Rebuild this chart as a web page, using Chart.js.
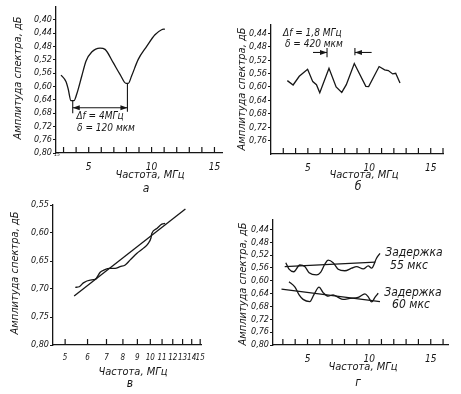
<!DOCTYPE html>
<html>
<head>
<meta charset="utf-8">
<script src="https://cdn.jsdelivr.net/npm/chart.js@4.4.1/dist/chart.umd.min.js"></script>
<style>
  body { margin: 0; background: #fff; }
  #wrap { position: relative; width: 461px; height: 394px; }
  #wrap canvas { position: absolute; left: 0; top: 0; }
</style>
</head>
<body>
<div id="wrap">
  <canvas id="chA" width="461" height="394"></canvas>
  <canvas id="chB" width="461" height="394"></canvas>
  <canvas id="chV" width="461" height="394"></canvas>
  <canvas id="chG" width="461" height="394"></canvas>
</div>
<script>
// ---- data ----
// panel а
const freqA = [2.80, 3.20, 3.37, 3.59, 3.83, 4.05, 4.45, 4.79, 5.24, 5.90, 6.30, 6.95, 7.49, 7.97, 8.15, 8.41, 8.94, 9.61, 10.27, 10.80, 11.06];
const ampA  = [0.566, 0.586, 0.608, 0.643, 0.643, 0.623, 0.569, 0.524, 0.497, 0.485, 0.489, 0.529, 0.564, 0.591, 0.591, 0.569, 0.519, 0.480, 0.445, 0.430, 0.428];
const xTicksA = [3, 4, 5, 6, 7, 8, 9, 10, 11, 12, 13, 14, 15];
const xLabelsA = [5, 10, 15];
const yTicksA = [0.40, 0.44, 0.48, 0.52, 0.56, 0.60, 0.64, 0.68, 0.72, 0.76, 0.80];

// panel б
const freqB = [3.33, 3.80, 4.30, 4.98, 5.40, 5.70, 5.97, 6.72, 7.30, 7.76, 8.13, 8.78, 9.72, 9.95, 10.80, 11.25, 11.55, 11.90, 12.15, 12.50];
const ampB  = [0.581, 0.594, 0.568, 0.547, 0.584, 0.593, 0.617, 0.544, 0.600, 0.616, 0.593, 0.530, 0.598, 0.599, 0.539, 0.549, 0.551, 0.561, 0.559, 0.588];
const xTicksB = [3, 4, 5, 6, 7, 8, 9, 10, 11, 12, 13, 14, 15, 16];
const xLabelsB = [5, 10, 15];
const yTicksB = [0.44, 0.48, 0.52, 0.56, 0.60, 0.64, 0.68, 0.72, 0.76];

// panel в (log frequency axis)
const freqV = [5.43, 5.61, 5.80, 6.13, 6.38, 6.65, 6.87, 7.17, 7.51, 7.82, 8.15, 8.49, 8.97, 9.46, 9.85, 10.05, 10.12, 10.55, 10.98, 11.28];
const ampV  = [0.697, 0.696, 0.689, 0.684, 0.683, 0.670, 0.666, 0.663, 0.663, 0.660, 0.657, 0.648, 0.636, 0.627, 0.618, 0.609, 0.601, 0.592, 0.584, 0.583];
const fitFreqV = [5.38, 13.3];
const fitAmpV  = [0.7125, 0.557];
const xTicksV = [5, 6, 7, 8, 9, 10, 11, 12, 13, 14, 15];
const yTicksV = [0.55, 0.60, 0.65, 0.70, 0.75, 0.80];

// panel г
const freq55 = [3.24, 3.50, 3.89, 4.37, 4.78, 5.13, 5.73, 6.06, 6.41, 6.67, 7.08, 7.49, 8.03, 8.58, 8.98, 9.52, 9.93, 10.20, 10.60, 10.88];
const amp55  = [0.544, 0.564, 0.572, 0.551, 0.556, 0.575, 0.582, 0.574, 0.548, 0.536, 0.544, 0.564, 0.569, 0.561, 0.556, 0.563, 0.554, 0.561, 0.530, 0.515];
const fitFreq55 = [3.15, 10.5];
const fitAmp55  = [0.556, 0.542];
const freq60 = [3.50, 3.97, 4.32, 4.64, 5.19, 5.51, 5.94, 6.27, 6.67, 7.08, 7.49, 7.89, 8.44, 9.11, 9.66, 9.93, 10.20, 10.47, 10.74];
const amp60  = [0.603, 0.619, 0.644, 0.658, 0.665, 0.644, 0.620, 0.637, 0.648, 0.644, 0.652, 0.658, 0.655, 0.652, 0.641, 0.650, 0.666, 0.652, 0.639];
const fitFreq60 = [2.89, 10.88];
const fitAmp60  = [0.626, 0.665];
const xTicksG = [3, 4, 5, 6, 7, 8, 9, 10, 11, 12, 13, 14, 15, 16];
const xLabelsG = [5, 10, 15];
const yTicksG = [0.44, 0.48, 0.52, 0.56, 0.60, 0.64, 0.68, 0.72, 0.76, 0.80];

const yTitle = 'Амплитуда спектра, дБ';
const xTitle = 'Частота, МГц';

// ---- drawing ----
const FAMILY = '"DejaVu Sans Condensed", "Liberation Sans Narrow", "DejaVu Sans", sans-serif';
Chart.defaults.font.family = FAMILY;
Chart.defaults.font.style = 'italic';
Chart.defaults.font.size = 10;
Chart.defaults.color = '#1a1a1a';
Chart.defaults.animation = false;

const W = 461, H = 394;
const INK = '#161616';

const pts = (xs, ys) => xs.map((x, i) => ({ x: x, y: ys[i] }));
const comma = v => v.toFixed(2).replace('.', ',');

function text(ctx, s, x, y, size, rot, align) {
  ctx.save();
  ctx.font = 'italic ' + size + 'px ' + FAMILY;
  ctx.fillStyle = INK;
  ctx.textAlign = align || 'center';
  ctx.textBaseline = 'middle';
  ctx.translate(x, y);
  if (rot) ctx.rotate(rot);
  ctx.fillText(s, 0, 0);
  ctx.restore();
}

function line(ctx, x1, y1, x2, y2) {
  ctx.beginPath();
  ctx.moveTo(x1, y1);
  ctx.lineTo(x2, y2);
  ctx.stroke();
}

function head(ctx, x, y, dir) {
  ctx.beginPath();
  ctx.moveTo(x, y);
  ctx.lineTo(x - dir * 7, y - 2.5);
  ctx.lineTo(x - dir * 7, y + 2.5);
  ctx.closePath();
  ctx.fill();
}

// x ticks in the figure point up into the plot
const innerTicks = {
  id: 'innerTicks',
  afterDraw(chart) {
    const s = chart.scales.x, ctx = chart.ctx, y = chart.chartArea.bottom;
    ctx.save();
    ctx.strokeStyle = INK;
    ctx.lineWidth = 1.2;
    s.ticks.forEach(t => line(ctx, s.getPixelForValue(t.value), y, s.getPixelForValue(t.value), y - 6));
    ctx.restore();
  }
};

function makePanel(id, box, xCfg, yCfg, series, extras) {
  return new Chart(document.getElementById(id), {
    type: 'scatter',
    data: {
      datasets: series.map(s => ({
        data: pts(s[0], s[1]),
        showLine: true,
        borderColor: INK,
        borderWidth: 1.3,
        pointRadius: 0,
        cubicInterpolationMode: s[2] ? 'monotone' : 'default',
        tension: s[2] ? 0.4 : 0
      }))
    },
    options: {
      responsive: false,
      layout: { padding: { left: 0, top: box.top, right: W - box.right, bottom: 0 } },
      plugins: { legend: { display: false }, tooltip: { enabled: false } },
      scales: {
        x: {
          type: xCfg.type || 'linear',
          min: xCfg.min,
          max: xCfg.max,
          grid: { drawOnChartArea: false, drawTicks: false },
          border: { display: true, color: INK, width: 1.3 },
          ticks: {
            padding: 8,
            autoSkip: false,
            maxRotation: 0,
            color: INK,
            font: { size: xCfg.size || 10 },
            callback: v => (xCfg.labels.includes(v) ? String(v) : '')
          },
          afterBuildTicks: s => { s.ticks = xCfg.ticks.map(v => ({ value: v })); },
          afterFit: s => { s.height = H - box.bottom; }
        },
        y: {
          reverse: true,
          min: yCfg.min,
          max: yCfg.max,
          grid: { drawOnChartArea: false, drawTicks: true, tickLength: 3, color: INK },
          border: { display: true, color: INK, width: 1.3 },
          ticks: { padding: 1, autoSkip: false, color: INK, font: { size: 9 }, callback: v => comma(v) },
          afterBuildTicks: s => { s.ticks = yCfg.ticks.map(v => ({ value: v })); },
          afterFit: s => { s.width = box.left; }
        }
      }
    },
    plugins: [innerTicks, { id: 'extras_' + id, afterDraw: c => extras(c, c.ctx, c.scales.x, c.scales.y) }]
  });
}

// а
makePanel('chA', { left: 56, right: 222, top: 5, bottom: 153 },
  { min: 2.4, max: 15.6, ticks: xTicksA, labels: xLabelsA },
  { min: 0.36, max: 0.80, ticks: yTicksA },
  [[freqA, ampA, true]],
  (c, ctx, x, y) => {
    ctx.save();
    ctx.strokeStyle = INK; ctx.fillStyle = INK; ctx.lineWidth = 1.1;
    const xl = x.getPixelForValue(3.73), xr = x.getPixelForValue(8.08);
    line(ctx, xl, y.getPixelForValue(0.643), xl, y.getPixelForValue(0.681));
    line(ctx, xr, y.getPixelForValue(0.591), xr, y.getPixelForValue(0.676));
    const ya = y.getPixelForValue(0.664);
    line(ctx, xl, ya, xr, ya);
    head(ctx, xl, ya, -1);
    head(ctx, xr, ya, 1);
    ctx.restore();
    text(ctx, 'Δf = 4МГц', 100, 116, 10);
    text(ctx, 'δ = 120 мкм', 106, 128, 10);
    text(ctx, '15', 57, 155, 5);
    text(ctx, yTitle, 18, 78, 11, -Math.PI / 2);
    text(ctx, xTitle, 150, 175, 11);
    text(ctx, 'а', 146, 189, 12);
  });

// б
makePanel('chB', { left: 271, right: 443, top: 25, bottom: 154 },
  { min: 2, max: 16, ticks: xTicksB, labels: xLabelsB },
  { min: 0.415, max: 0.80, ticks: yTicksB },
  [[freqB, ampB, false]],
  (c, ctx, x, y) => {
    ctx.save();
    ctx.strokeStyle = INK; ctx.fillStyle = INK; ctx.lineWidth = 1.1;
    const ya = y.getPixelForValue(0.497);
    const a1 = x.getPixelForValue(5.42), a2 = x.getPixelForValue(6.56);
    const b1 = x.getPixelForValue(8.83), b2 = x.getPixelForValue(10.19);
    line(ctx, a1, ya, a2, ya); head(ctx, a2, ya, 1);
    line(ctx, a2, y.getPixelForValue(0.484), a2, y.getPixelForValue(0.511));
    line(ctx, b2, ya, b1, ya); head(ctx, b1, ya, -1);
    line(ctx, b1, y.getPixelForValue(0.484), b1, y.getPixelForValue(0.505));
    ctx.restore();
    text(ctx, 'Δf = 1,8 МГц', 283, 33, 10, 0, 'left');
    text(ctx, 'δ = 420 мкм', 285, 44, 10, 0, 'left');
    text(ctx, yTitle, 242, 89, 11, -Math.PI / 2);
    text(ctx, xTitle, 364, 175, 11);
    text(ctx, 'б', 358, 187, 12);
  });

// в
makePanel('chV', { left: 53, right: 201, top: 205, bottom: 345 },
  { type: 'logarithmic', min: 4.53, max: 15.1, ticks: xTicksV, labels: xTicksV, size: 8 },
  { min: 0.55, max: 0.80, ticks: yTicksV },
  [[freqV, ampV, true], [fitFreqV, fitAmpV, false]],
  (c, ctx) => {
    text(ctx, yTitle, 15, 273, 11, -Math.PI / 2);
    text(ctx, xTitle, 133, 372, 11);
    text(ctx, 'в', 130, 384, 12);
  });

// г
makePanel('chG', { left: 273, right: 448, top: 220, bottom: 345 },
  { min: 2.2, max: 16.4, ticks: xTicksG, labels: xLabelsG },
  { min: 0.411, max: 0.80, ticks: yTicksG },
  [[freq55, amp55, true], [fitFreq55, fitAmp55, false], [freq60, amp60, true], [fitFreq60, fitAmp60, false]],
  (c, ctx) => {
    text(ctx, 'Задержка', 414, 253, 12);
    text(ctx, '55 мкс', 409, 266, 12);
    text(ctx, 'Задержка', 413, 293, 12);
    text(ctx, '60 мкс', 411, 305, 12);
    text(ctx, yTitle, 243, 284, 11, -Math.PI / 2);
    text(ctx, xTitle, 363, 367, 11);
    text(ctx, 'г', 358, 383, 12);
  });
</script>
</body>
</html>
